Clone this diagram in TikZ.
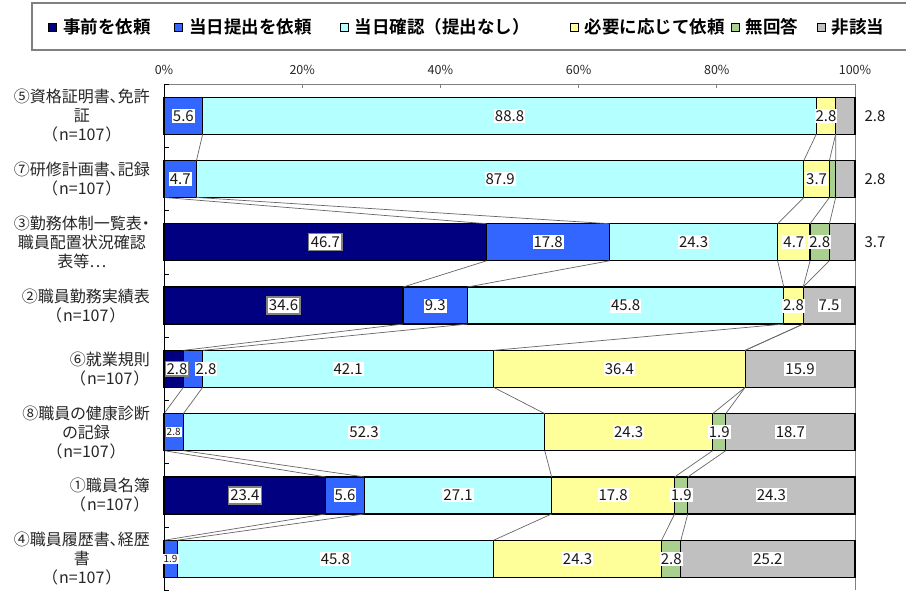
\documentclass[tikz,border=0pt]{standalone}
\usepackage{fontspec}
\setmainfont{Noto Sans CJK JP}[RawFeature=+palt]
\newfontfamily\legfont{Noto Sans CJK JP}[BoldFont={* Bold}]
\usetikzlibrary{calc}
\definecolor{col1}{HTML}{000080}
\definecolor{col2}{HTML}{3366FF}
\definecolor{col3}{HTML}{B4FFFF}
\definecolor{col4}{HTML}{FFFF99}
\definecolor{col5}{HTML}{A9D08E}
\definecolor{col6}{HTML}{C0C0C0}
\definecolor{sline}{HTML}{666666}
\definecolor{axgray}{HTML}{808080}
\tikzset{
 seg/.style={draw=black, line width=1.2pt},
 serline/.style={draw=sline, line width=0.7pt},
 val/.style={fill=white, inner xsep=1pt, inner ysep=1.5pt, font=\fontsize{15}{15}\selectfont, text=black!90},
 valbox/.style={val, draw=axgray, line width=1.3pt, inner xsep=2pt, inner ysep=3pt},
 valsmall/.style={val, font=\fontsize{10}{10}\selectfont},
 catlab/.style={anchor=east, align=center, font=\fontsize{16}{19}\selectfont, text=black!85, inner sep=0pt},
 ticklab/.style={font=\fontsize{12.5}{12.5}\selectfont, text=black!85},
 legsq/.style={draw=black, line width=0.8pt, minimum size=8pt, inner sep=0pt},
 legtxt/.style={anchor=west, font=\legfont\bfseries\fontsize{17.5}{17.5}\selectfont, inner sep=0pt},
}
\newcommand\nn{（\hspace{1.5pt}n=107\hspace{1.5pt}）}
\newcommand\drawrow[2]{%
  \pgfmathsetmacro\yt{84+63.3*(#1-0.5)-18.5}%
  \pgfmathsetmacro\yb{\yt+37}%
  \coordinate (t-#1-0) at (164,\yt);
  \coordinate (b-#1-0) at (164,\yb);
  \xdef\cum{0}%
  \foreach \v [count=\k] in {#2} {
    \pgfmathsetmacro\xa{164+6.91*\cum}
    \pgfmathsetmacro\nc{\cum+\v}
    \pgfmathsetmacro\xb{164+6.91*\nc}
    \xdef\cum{\nc}
    \ifdim\v pt>0pt
      \filldraw[seg, fill=col\k] (\xa,\yt) rectangle (\xb,\yb);
    \fi
    \coordinate (t-#1-\k) at (\xb,\yt);
    \coordinate (b-#1-\k) at (\xb,\yb);
  }
}
\newcommand\vlab[5][val]{\node[#1] (v-#2-#4) at ($(t-#2-#3)!0.5!(b-#2-#4)$) {#5};}
\newcommand\olab[2]{\node[val, fill=none] (o-#1) at ($(t-#1-6)!0.5!(b-#1-6)+(20,0)$) {#2};}
\begin{document}
\begin{tikzpicture}[x=1pt,y=-1pt]
\useasboundingbox (0,0) rectangle (906,592);
\fill[white] (0,0) rectangle (906,592);
% legend
\draw[axgray, line width=1.2pt] (906,3) -- (32,3) -- (32,50) -- (906,50);
\foreach \c/\x/\t [count=\i] in {col1/52.5/事前を依頼, col2/178.5/当日提出を依頼, col3/344/当日確認（提出なし）, col4/574/必要に応じて依頼, col5/735/無回答, col6/821/非該当} {
  \node[legsq, fill=\c] (lsq\i) at (\x,27) {};
  \node[legtxt] (ltx\i) at (\x+10.5,27) {\t};
}
% axes
\foreach \j in {0,...,5} {
  \node[ticklab] (tick\j) at (164+138.2*\j,70) {\the\numexpr20*\j\relax\%};
  \draw[axgray, line width=0.8pt] (164+138.2*\j,84) -- (164+138.2*\j,88);
}
\draw[axgray, line width=0.9pt] (164,84) -- (855,84);
\draw[axgray, line width=0.9pt] (855,84) -- (855,590.4);
% bars
\drawrow{1}{0,5.6,88.8,2.8,0,2.8}
\drawrow{2}{0,4.7,87.9,3.7,0.9,2.8}
\drawrow{3}{46.7,17.8,24.3,4.7,2.8,3.7}
\drawrow{4}{34.6,9.3,45.8,2.8,0,7.5}
\drawrow{5}{2.8,2.8,42.1,36.4,0,15.9}
\drawrow{6}{0,2.8,52.3,24.3,1.9,18.7}
\drawrow{7}{23.4,5.6,27.1,17.8,1.9,24.2}
\drawrow{8}{0,1.9,45.8,24.3,2.8,25.2}
% series lines
\foreach \r [evaluate=\r as \s using int(\r+1)] in {1,...,7} {
  \foreach \k in {1,...,5} { \draw[serline] (b-\r-\k) -- (t-\s-\k); }
}
% left axis
\draw[black, line width=1pt] (164,84) -- (164,590.4);
\foreach \k in {0,...,8} { \draw[black, line width=0.8pt] (164,84+63.3*\k) -- (169,84+63.3*\k); }
% category labels
\foreach \txt [count=\r] in {{⑤資格証明書、免許\\証\\\nn}, {⑦研修計画書、記録\\\nn}, {③勤務体制一覧表・\\職員配置状況確認\\表等…}, {②職員勤務実績表\\\nn}, {⑥就業規則\\\nn}, {⑧職員の健康診断\\の記録\\\nn}, {①職員名簿\\\nn}, {④職員履歴書、経歴\\書\\\nn}} {
  \node[catlab] (cat\r) at (150,84+63.3*\r-31.65) {\txt};
}
% value labels
\vlab{1}{1}{2}{5.6}\vlab{1}{2}{3}{88.8}\vlab{1}{3}{4}{2.8}\olab{1}{2.8}
\vlab{2}{1}{2}{4.7}\vlab{2}{2}{3}{87.9}\vlab{2}{3}{4}{3.7}\olab{2}{2.8}
\vlab[valbox]{3}{0}{1}{46.7}\vlab{3}{1}{2}{17.8}\vlab{3}{2}{3}{24.3}\vlab{3}{3}{4}{4.7}\vlab{3}{4}{5}{2.8}\olab{3}{3.7}
\vlab[valbox]{4}{0}{1}{34.6}\vlab{4}{1}{2}{9.3}\vlab{4}{2}{3}{45.8}\vlab{4}{3}{4}{2.8}\vlab{4}{5}{6}{7.5}
\node[valbox, inner xsep=1pt, inner ysep=1.5pt] (v-5-1) at (177,{84+63.3*4.5}) {2.8};
\node[val] (v-5-2) at (206,{84+63.3*4.5}) {2.8};
\vlab{5}{2}{3}{42.1}\vlab{5}{3}{4}{36.4}\vlab{5}{5}{6}{15.9}
\vlab[valsmall]{6}{1}{2}{2.8}\vlab{6}{2}{3}{52.3}\vlab{6}{3}{4}{24.3}\vlab{6}{4}{5}{1.9}\vlab{6}{5}{6}{18.7}
\vlab[valbox]{7}{0}{1}{23.4}\vlab{7}{1}{2}{5.6}\vlab{7}{2}{3}{27.1}\vlab{7}{3}{4}{17.8}\vlab{7}{4}{5}{1.9}\vlab{7}{5}{6}{24.3}
\vlab[valsmall]{8}{1}{2}{1.9}\vlab{8}{2}{3}{45.8}\vlab{8}{3}{4}{24.3}\vlab{8}{4}{5}{2.8}\vlab{8}{5}{6}{25.2}
\end{tikzpicture}
\end{document}
